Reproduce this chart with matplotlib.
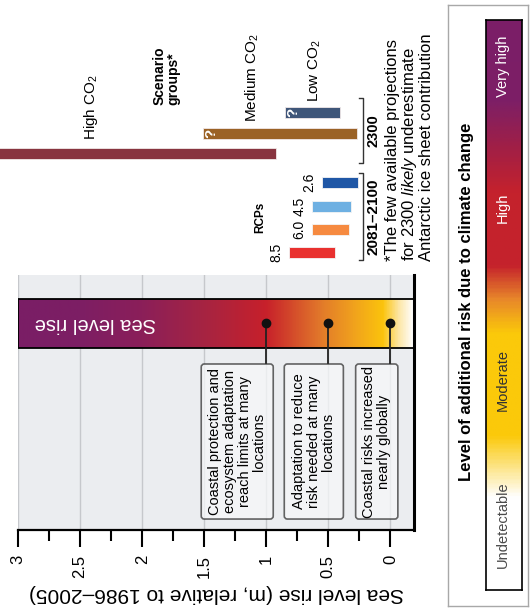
import numpy as np
import matplotlib.pyplot as plt
from matplotlib.colors import LinearSegmentedColormap
from matplotlib.patches import Rectangle, FancyBboxPatch

plt.rcParams['font.family'] = ['Liberation Sans', 'DejaVu Sans']
plt.rcParams['mathtext.fontset'] = 'custom'
plt.rcParams['mathtext.rm'] = 'Liberation Sans'
plt.rcParams['mathtext.it'] = 'Liberation Sans:italic'
plt.rcParams['mathtext.bf'] = 'Liberation Sans:bold'

# scenario groups for 2300, sea level rise range (m)
group_names = ["Low CO$_2$", "Medium CO$_2$", "High CO$_2$"]
group_lo = [0.41, 0.27, 0.92]
group_hi = [0.85, 1.51, 3.59]
group_colors = ["#3f5679", "#9b6226", "#88343f"]
group_uncertain = [True, True, False]

# RCPs for 2081-2100 (m)
rcp_names = ["2.6", "4.5", "6.0", "8.5"]
rcp_lo = [0.26, 0.32, 0.33, 0.45]
rcp_hi = [0.55, 0.63, 0.63, 0.82]
rcp_colors = ["#1f57a6", "#6eb0e2", "#f68a40", "#e9312f"]

# risk transitions along the sea level rise bar
milestones = [1.0, 0.5, 0.0]
milestone_text = ["Coastal protection and\necosystem adaptation\nreach limits at many\nlocations",
                  "Adaptation to reduce\nrisk needed at many\nlocations",
                  "Coastal risks increased\nnearly globally"]

ticks = [0, 0.5, 1, 1.5, 2, 2.5, 3]
tick_labels = ["0", "0.5", "1", "1.5", "2", "2.5", "3"]

risk_levels = ["Undetectable", "Moderate", "High", "Very high"]

W, H = 531, 612
fig = plt.figure(figsize=(W / 100, H / 100), dpi=100)


def fbox(l, t, r, b):
    return [l / W, 1 - b / H, (r - l) / W, (b - t) / H]


X0, X1 = 3.0, -0.19          # panel value range (left -> right)
PL, PR = 18, 414
scale = (X0 - X1) / (PR - PL)

# ---- main panel -------------------------------------------------------
ax = fig.add_axes(fbox(PL, 275, PR, 530))
ax.set_facecolor("#ebedf0")
ax.set_xlim(X0, X1)
ax.set_ylim(0, 1)
for s in ["top", "left"]:
    ax.spines[s].set_visible(False)
ax.spines["bottom"].set_linewidth(1.6)
ax.spines["right"].set_linewidth(2.2)
ax.set_yticks([])
ax.set_xticks(ticks)
ax.set_xticklabels(tick_labels, rotation=90, fontsize=12)
ax.set_xticks(np.arange(0.25, 3, 0.5), minor=True)
ax.tick_params(axis="x", which="major", length=12, width=1.5, pad=6)
ax.tick_params(axis="x", which="minor", length=8, width=1.5)
ax.set_xlabel("Sea level rise (m, relative to 1986–2005)", rotation=180,
              fontsize=15, labelpad=4)
for t in ticks:
    ax.axvline(t, color="#c6c8cc", lw=1, zorder=0.5)

# gradient bar
bar_y0, bar_y1 = 0.714, 0.906
stops = [(-0.19, "#ffffff"), (-0.08, "#fde7a8"), (0.05, "#fbc40c"),
         (0.3, "#f0a01e"), (0.55, "#e27a2a"), (1.0, "#c7202b"),
         (1.5, "#a62442"), (2.0, "#8b1f59"), (2.5, "#7d1e64"), (3.0, "#7a1e66")]
slr_cmap = LinearSegmentedColormap.from_list(
    "slr", [((v - X1) / (X0 - X1), c) for v, c in stops])
grad = np.linspace(X1, X0, 500)[None, :]
ax.imshow(grad, extent=[X1, X0, bar_y0, bar_y1], cmap=slr_cmap, vmin=X1, vmax=X0,
          aspect="auto", origin="lower", zorder=1)
ax.add_patch(Rectangle((X1, bar_y0), X0 - X1, bar_y1 - bar_y0, fill=False,
                       ec="black", lw=1.3, zorder=2))
ax.set_xlim(X0, X1)
ax.set_ylim(0, 1)
ax.text(2.38, (bar_y0 + bar_y1) / 2, "Sea level rise", rotation=180, color="white",
        fontsize=14.5, ha="center", va="center", zorder=3)

dot_y = 0.81
box_top, box_bot = 0.651, 0.043
box_spans = [(0.944, 1.524), (0.379, 0.855), (-0.06, 0.28)]
ax.vlines(milestones, box_top, dot_y, color="#222222", lw=1.3, zorder=3)
ax.plot(milestones, [dot_y] * len(milestones), "o", color="#111111", ms=6, zorder=4)
for (lo, hi), txt in zip(box_spans, milestone_text):
    ax.add_patch(FancyBboxPatch((lo, box_bot), hi - lo, box_top - box_bot,
                                boxstyle="round,pad=0,rounding_size=0.025",
                                mutation_aspect=0.486, fc="#f6f7f9", alpha=0.75,
                                ec="#333333", lw=1.2, zorder=3))
    ax.text((lo + hi) / 2, (box_top + box_bot) / 2, txt, rotation=90,
            ha="center", va="center", multialignment="center", fontsize=10.5,
            linespacing=1.05, zorder=4)

# ---- projections above the panel --------------------------------------
axt = fig.add_axes(fbox(0, 0, 448, 275))
axt.set_xlim(X0 + PL * scale, X0 - (448 - PL) * scale)
axt.set_ylim(275, 0)
axt.axis("off")

group_y = [112.5, 133.5, 153]
rcp_y = [182.5, 206.5, 229.5, 252.5]
axt.barh(group_y, np.subtract(group_hi, group_lo), left=group_lo, height=11,
         color=group_colors, ec="#f0e8e8", lw=0.6)
axt.barh(rcp_y, np.subtract(rcp_hi, rcp_lo), left=rcp_lo, height=11,
         color=rcp_colors, ec="#f4f4f4", lw=0.6)

for y, hi, unc in zip(group_y, group_hi, group_uncertain):
    if unc:
        axt.text(hi - 0.07, y, "?", rotation=90, color="white", fontsize=11,
                 fontweight="bold", ha="center", va="center")
for y, hi, name in zip(rcp_y, rcp_hi, rcp_names):
    axt.text(hi + 0.045, y, name, rotation=90, ha="right", va="center", fontsize=10)

label_x = [0.613, 1.113, 2.41]
label_bottom = [102, 122, 140]
for x, yb, name in zip(label_x, label_bottom, group_names):
    axt.text(x, yb, name, rotation=90, ha="center", va="bottom", fontsize=11)
axt.text(1.806, 105, "Scenario\ngroups*", rotation=90, ha="center", va="bottom",
         multialignment="left", fontsize=10, fontweight="bold", linespacing=1.0)
axt.text(1.05, 217, "RCPs", rotation=90, ha="center", va="center",
         fontsize=8.5, fontweight="bold")

# brackets
bx = 0.22
for top, bot, lab in [(98, 163, "2300"), (173, 260, "2081–2100")]:
    axt.plot([bx + 0.03, bx, bx, bx + 0.03], [top, top, bot, bot],
             color="#333333", lw=1)
    axt.text(bx - 0.085, (top + bot) / 2, lab, rotation=90, ha="center", va="center",
             fontsize=11 if lab != "2300" else 10.5, fontweight="bold")

axt.text(0.04, 261, "*The few available projections\nfor 2300 $\\mathit{likely}$ underestimate\n"
         "Antarctic ice sheet contribution", rotation=90, ha="left", va="bottom",
         multialignment="left", fontsize=12, linespacing=1.0)

# ---- risk legend ------------------------------------------------------
axo = fig.add_axes(fbox(448, 5, 528, 606))
axo.set_xticks([])
axo.set_yticks([])
for s in axo.spines.values():
    s.set_color("#a8a8a8")
    s.set_linewidth(1)

axl = fig.add_axes(fbox(486, 20, 522, 590))
risk_stops = [(0.0, "#ffffff"), (0.16, "#ffffff"), (0.27, "#fbc90a"),
              (0.45, "#fbc90a"), (0.51, "#e8872a"), (0.57, "#c5222c"),
              (0.70, "#c4222d"), (0.78, "#a01f47"), (0.86, "#7d1f66"), (1.0, "#7b1e68")]
risk_cmap = LinearSegmentedColormap.from_list("risk", risk_stops)
axl.imshow(np.linspace(0, 1, 400)[:, None], extent=[0, 1, 0, 1], cmap=risk_cmap,
           aspect="auto", origin="lower")
axl.set_xticks([])
axl.set_yticks([])
for s in axl.spines.values():
    s.set_linewidth(1.2)
level_pos = [0.114, 0.368, 0.67, 0.918]
level_col = ["#4a4a4a", "#333333", "white", "white"]
for name, p, c in zip(risk_levels, level_pos, level_col):
    axl.text(0.47, p, name, rotation=90, ha="center", va="center", color=c,
             fontsize=10.5, transform=axl.transAxes)
fig.text(467 / W, 1 - 302 / H, "Level of additional risk due to climate change",
         rotation=90, ha="center", va="center", fontsize=12, fontweight="bold")

fig.savefig("out.png", dpi=100)
